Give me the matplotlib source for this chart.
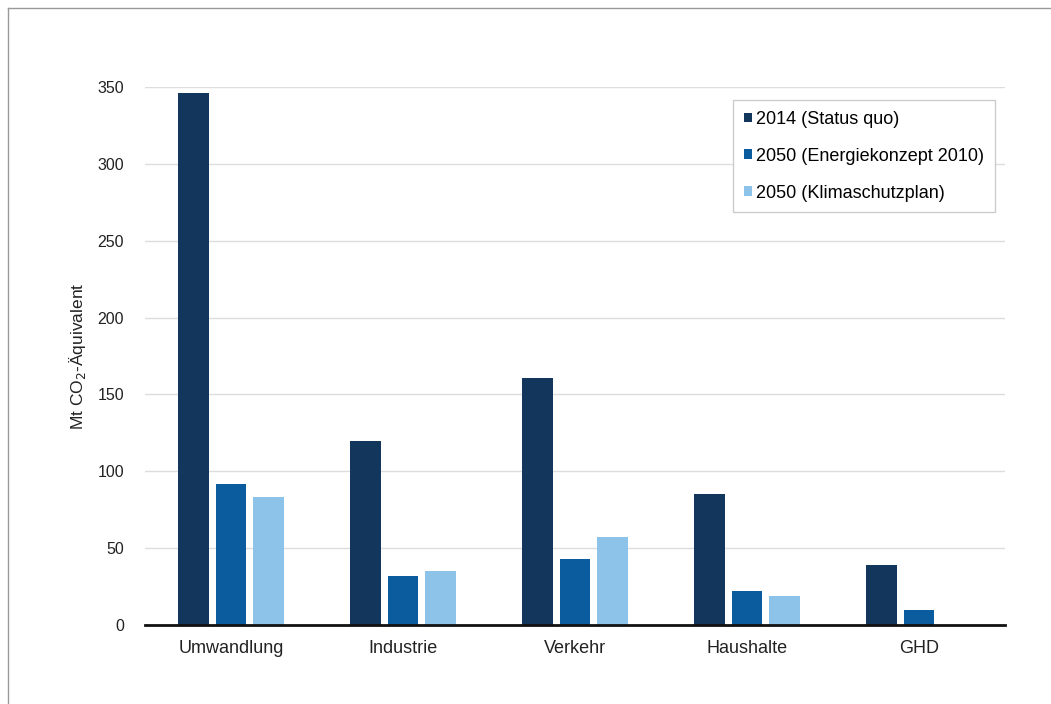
import numpy as np
import matplotlib.pyplot as plt
from matplotlib.lines import Line2D

plt.rcParams['font.family'] = ['Liberation Sans', 'DejaVu Sans']

categories = ["Umwandlung", "Industrie", "Verkehr", "Haushalte", "GHD"]
series_names = ["2014 (Status quo)", "2050 (Energiekonzept 2010)", "2050 (Klimaschutzplan)"]
status_quo_2014 = [346, 120, 161, 85, 39]
energiekonzept_2050 = [92, 32, 43, 22, 10]
klimaschutz_2050 = [83, 35, 57, 19, 0]
colors = ["#13365c", "#0b5c9e", "#8dc3e8"]

fig = plt.figure(figsize=(10.51, 7.04), dpi=100)
ax = fig.add_axes([145 / 1051, 1 - 625 / 704, 860 / 1051, 538 / 704])

x = np.arange(len(categories))
width = 0.18
step = 0.22
all_values = [status_quo_2014, energiekonzept_2050, klimaschutz_2050]
for i, (vals, name, col) in enumerate(zip(all_values, series_names, colors)):
    ax.bar(x + (i - 1) * step, vals, width, color=col, label=name, zorder=3)

ax.set_xlim(-0.5, len(categories) - 0.5)
ax.set_ylim(0, 350)
ax.set_yticks(range(0, 351, 50))
ax.set_xticks(x)
ax.set_xticklabels(categories, fontsize=13, color="#222222")
ax.tick_params(axis="y", labelsize=11.5, colors="#222222", length=0, pad=15)
ax.tick_params(axis="x", length=0, pad=11)
ax.yaxis.grid(True, color="#dddddd", linewidth=1, zorder=0)
for s in ["top", "right", "left"]:
    ax.spines[s].set_visible(False)
ax.spines["bottom"].set_linewidth(2)
ax.spines["bottom"].set_color("#111111")
ax.spines["bottom"].set_zorder(4)

ax.set_ylabel("Mt CO$_2$-Äquivalent", fontsize=12.5, color="#222222", labelpad=7)

ax.legend(loc="upper left", bbox_to_anchor=((733 - 145) / 860, (625 - 100) / 538),
          fontsize=13, frameon=True, fancybox=False, edgecolor="#cccccc",
          handlelength=0.45, handleheight=0.45, handletextpad=0.25,
          labelspacing=1.1, borderpad=0.6, borderaxespad=0, framealpha=1)

# thin frame on the top and left edge of the figure
fig.add_artist(Line2D([8 / 1051, 1], [1 - 8 / 704, 1 - 8 / 704], color="#999999", linewidth=1))
fig.add_artist(Line2D([8 / 1051, 8 / 1051], [0, 1 - 8 / 704], color="#999999", linewidth=1))

fig.savefig("out.png", dpi=100)
